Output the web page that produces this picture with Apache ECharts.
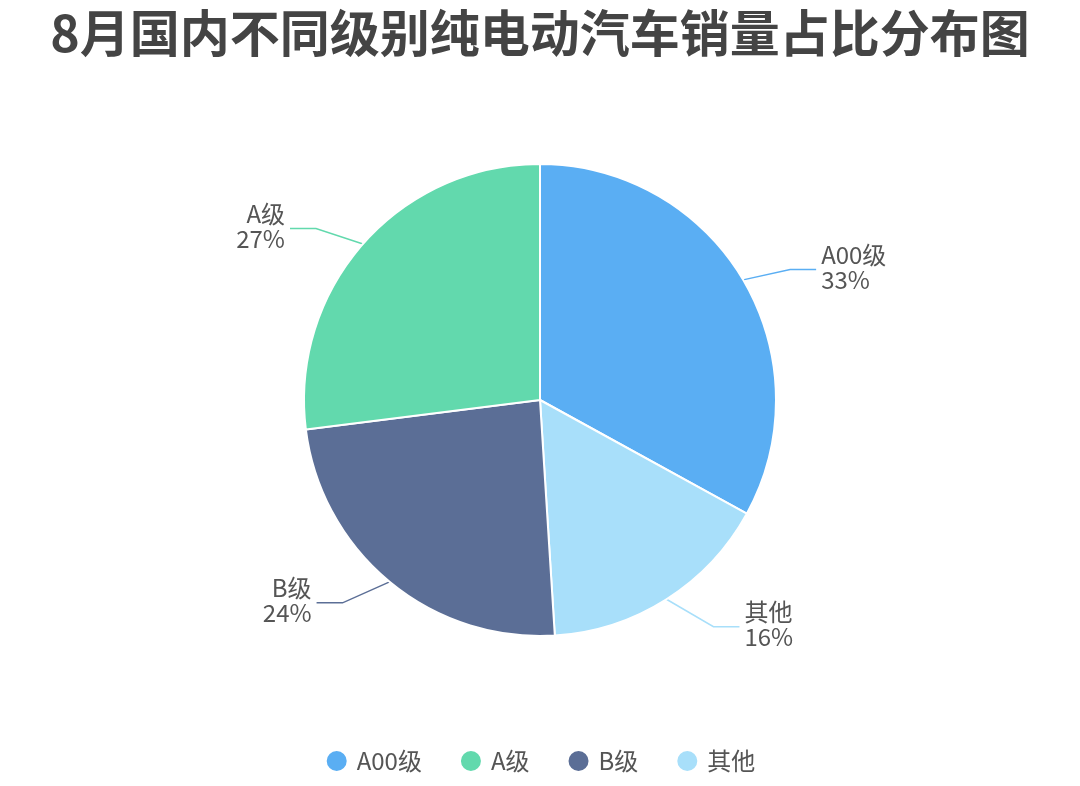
<!DOCTYPE html>
<html><head><meta charset="utf-8">
<script src="https://cdn.jsdelivr.net/npm/echarts@6/dist/echarts.min.js"></script>
<style>html,body{margin:0;padding:0;background:#fff}#c{width:1080px;height:786px}</style>
</head><body><div id="c"></div>
<script>
const titleText = '8月国内不同级别纯电动汽车销量占比分布图';
const categories = ['A00级', '其他', 'B级', 'A级'];
const values = [33, 16, 24, 27];
const legendOrder = ['A00级', 'A级', 'B级', '其他'];
const colorMap = {'A00级': '#5aaef3', 'A级': '#62d9ad', 'B级': '#5b6e96', '其他': '#a8dffa'};

const SEG1 = 47, SEG2 = 26, FLATTEN = 0.37, GAP = 5;

const chart = echarts.init(document.getElementById('c'));
chart.setOption({
  backgroundColor: '#fff',
  title: {
    text: titleText, left: 'center', top: 3,
    textStyle: {fontSize: 50, fontWeight: 'bold', color: '#444', fontFamily: 'Noto Sans CJK SC'}
  },
  legend: {
    data: legendOrder, bottom: 8, left: 'center', icon: 'circle', itemWidth: 22, itemHeight: 22, itemGap: 37,
    textStyle: {fontSize: 24, color: '#555', fontFamily: 'Noto Sans CJK SC', padding: [0, 0, 0, 4]}
  },
  series: [{
    type: 'pie', center: [540, 400], radius: 236, startAngle: 90, clockwise: true,
    itemStyle: {borderColor: '#fff', borderWidth: 2},
    label: {
      formatter: '{b}\n{d}%', fontSize: 24, lineHeight: 25, color: '#555',
      fontFamily: 'Noto Sans CJK SC'
    },
    labelLine: {length: 52, length2: 26, lineStyle: {width: 1.5}},
    labelLayout: function (p) {
      const pts = p.labelLinePoints;
      if (!pts || pts.length < 3) return {};
      const p0 = pts[0], p1 = pts[1];
      const sign = p1[0] >= p0[0] ? 1 : -1;
      const slope = (p1[1] - p0[1]) / (p1[0] - p0[0]);
      const q1 = [p0[0] + sign * SEG1, p0[1] + sign * SEG1 * slope * FLATTEN];
      const q2 = [q1[0] + sign * SEG2, q1[1]];
      return {x: q2[0] + sign * GAP, y: q2[1] - 2, labelLinePoints: [p0, q1, q2]};
    },
    data: categories.map((c, i) => ({name: c, value: values[i], itemStyle: {color: colorMap[c]}})),
    emphasis: {disabled: true}
  }],
  animation: false
});
</script></body></html>
